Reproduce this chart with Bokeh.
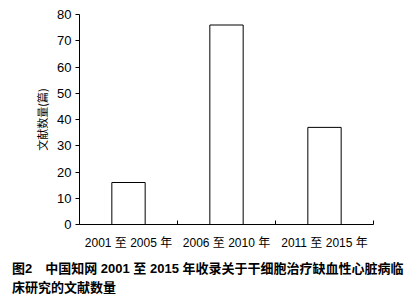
from bokeh.plotting import figure
from bokeh.models import FixedTicker, Range1d, Div
from bokeh.layouts import column
from bokeh.embed import file_html
from bokeh.resources import INLINE

categories = ["2001 至 2005 年", "2006 至 2010 年", "2011 至 2015 年"]
counts = [16, 76, 37]
y_ticks = [0, 10, 20, 30, 40, 50, 60, 70, 80]
y_label = "文献数量(篇)"
caption1 = "图2　中国知网 2001 至 2015 年收录关于干细胞治疗缺血性心脏病临"
caption2 = "床研究的文献数量"

FONT = "Liberation Sans, Noto Sans CJK SC"
xs = [i + 0.5 for i in range(len(categories))]

p = figure(width=415, height=252, output_backend="svg", toolbar_location=None,
           x_range=Range1d(0, len(categories)), y_range=Range1d(0, 80),
           min_border_left=79, min_border_right=42, min_border_top=14, min_border_bottom=26)
p.outline_line_color = None
p.xgrid.visible = False
p.ygrid.visible = False

p.vbar(x=xs, top=counts, width=0.34, fill_color="white", line_color="black", line_width=1)

p.xaxis.ticker = FixedTicker(ticks=xs, minor_ticks=list(range(len(categories) + 1)))
p.xaxis.major_label_overrides = {x: c for x, c in zip(xs, categories)}
p.xaxis.major_tick_line_color = None
p.xaxis.minor_tick_in = 4
p.xaxis.minor_tick_out = 0
p.xaxis.minor_tick_line_color = "black"
p.xaxis.axis_line_color = "black"
p.xaxis.major_label_text_font = FONT
p.xaxis.major_label_text_font_size = "12px"
p.xaxis.major_label_text_color = "black"
p.xaxis.major_label_standoff = 5

p.yaxis.ticker = FixedTicker(ticks=y_ticks, minor_ticks=[])
p.yaxis.major_tick_in = 0
p.yaxis.major_tick_out = 4
p.yaxis.major_tick_line_color = "black"
p.yaxis.axis_line_color = "black"
p.yaxis.major_label_text_font = "Liberation Sans"
p.yaxis.major_label_text_font_size = "13px"
p.yaxis.major_label_text_color = "black"
p.yaxis.major_label_standoff = 4
p.yaxis.axis_label = y_label
p.yaxis.axis_label_text_font = "Noto Sans CJK SC"
p.yaxis.axis_label_text_font_size = "11px"
p.yaxis.axis_label_text_font_style = "normal"
p.yaxis.axis_label_text_color = "black"
p.yaxis.axis_label_standoff = 4

cap = Div(text=caption1 + "<br>" + caption2, width=415, height=47,
          styles={"font-family": FONT, "font-size": "13px", "font-weight": "bold",
                  "line-height": "19px", "padding-left": "7px", "padding-top": "2px",
                  "white-space": "nowrap", "color": "black", "box-sizing": "border-box"})

layout = column(p, cap, spacing=0)
open("out.html", "w").write(file_html(layout, INLINE))
